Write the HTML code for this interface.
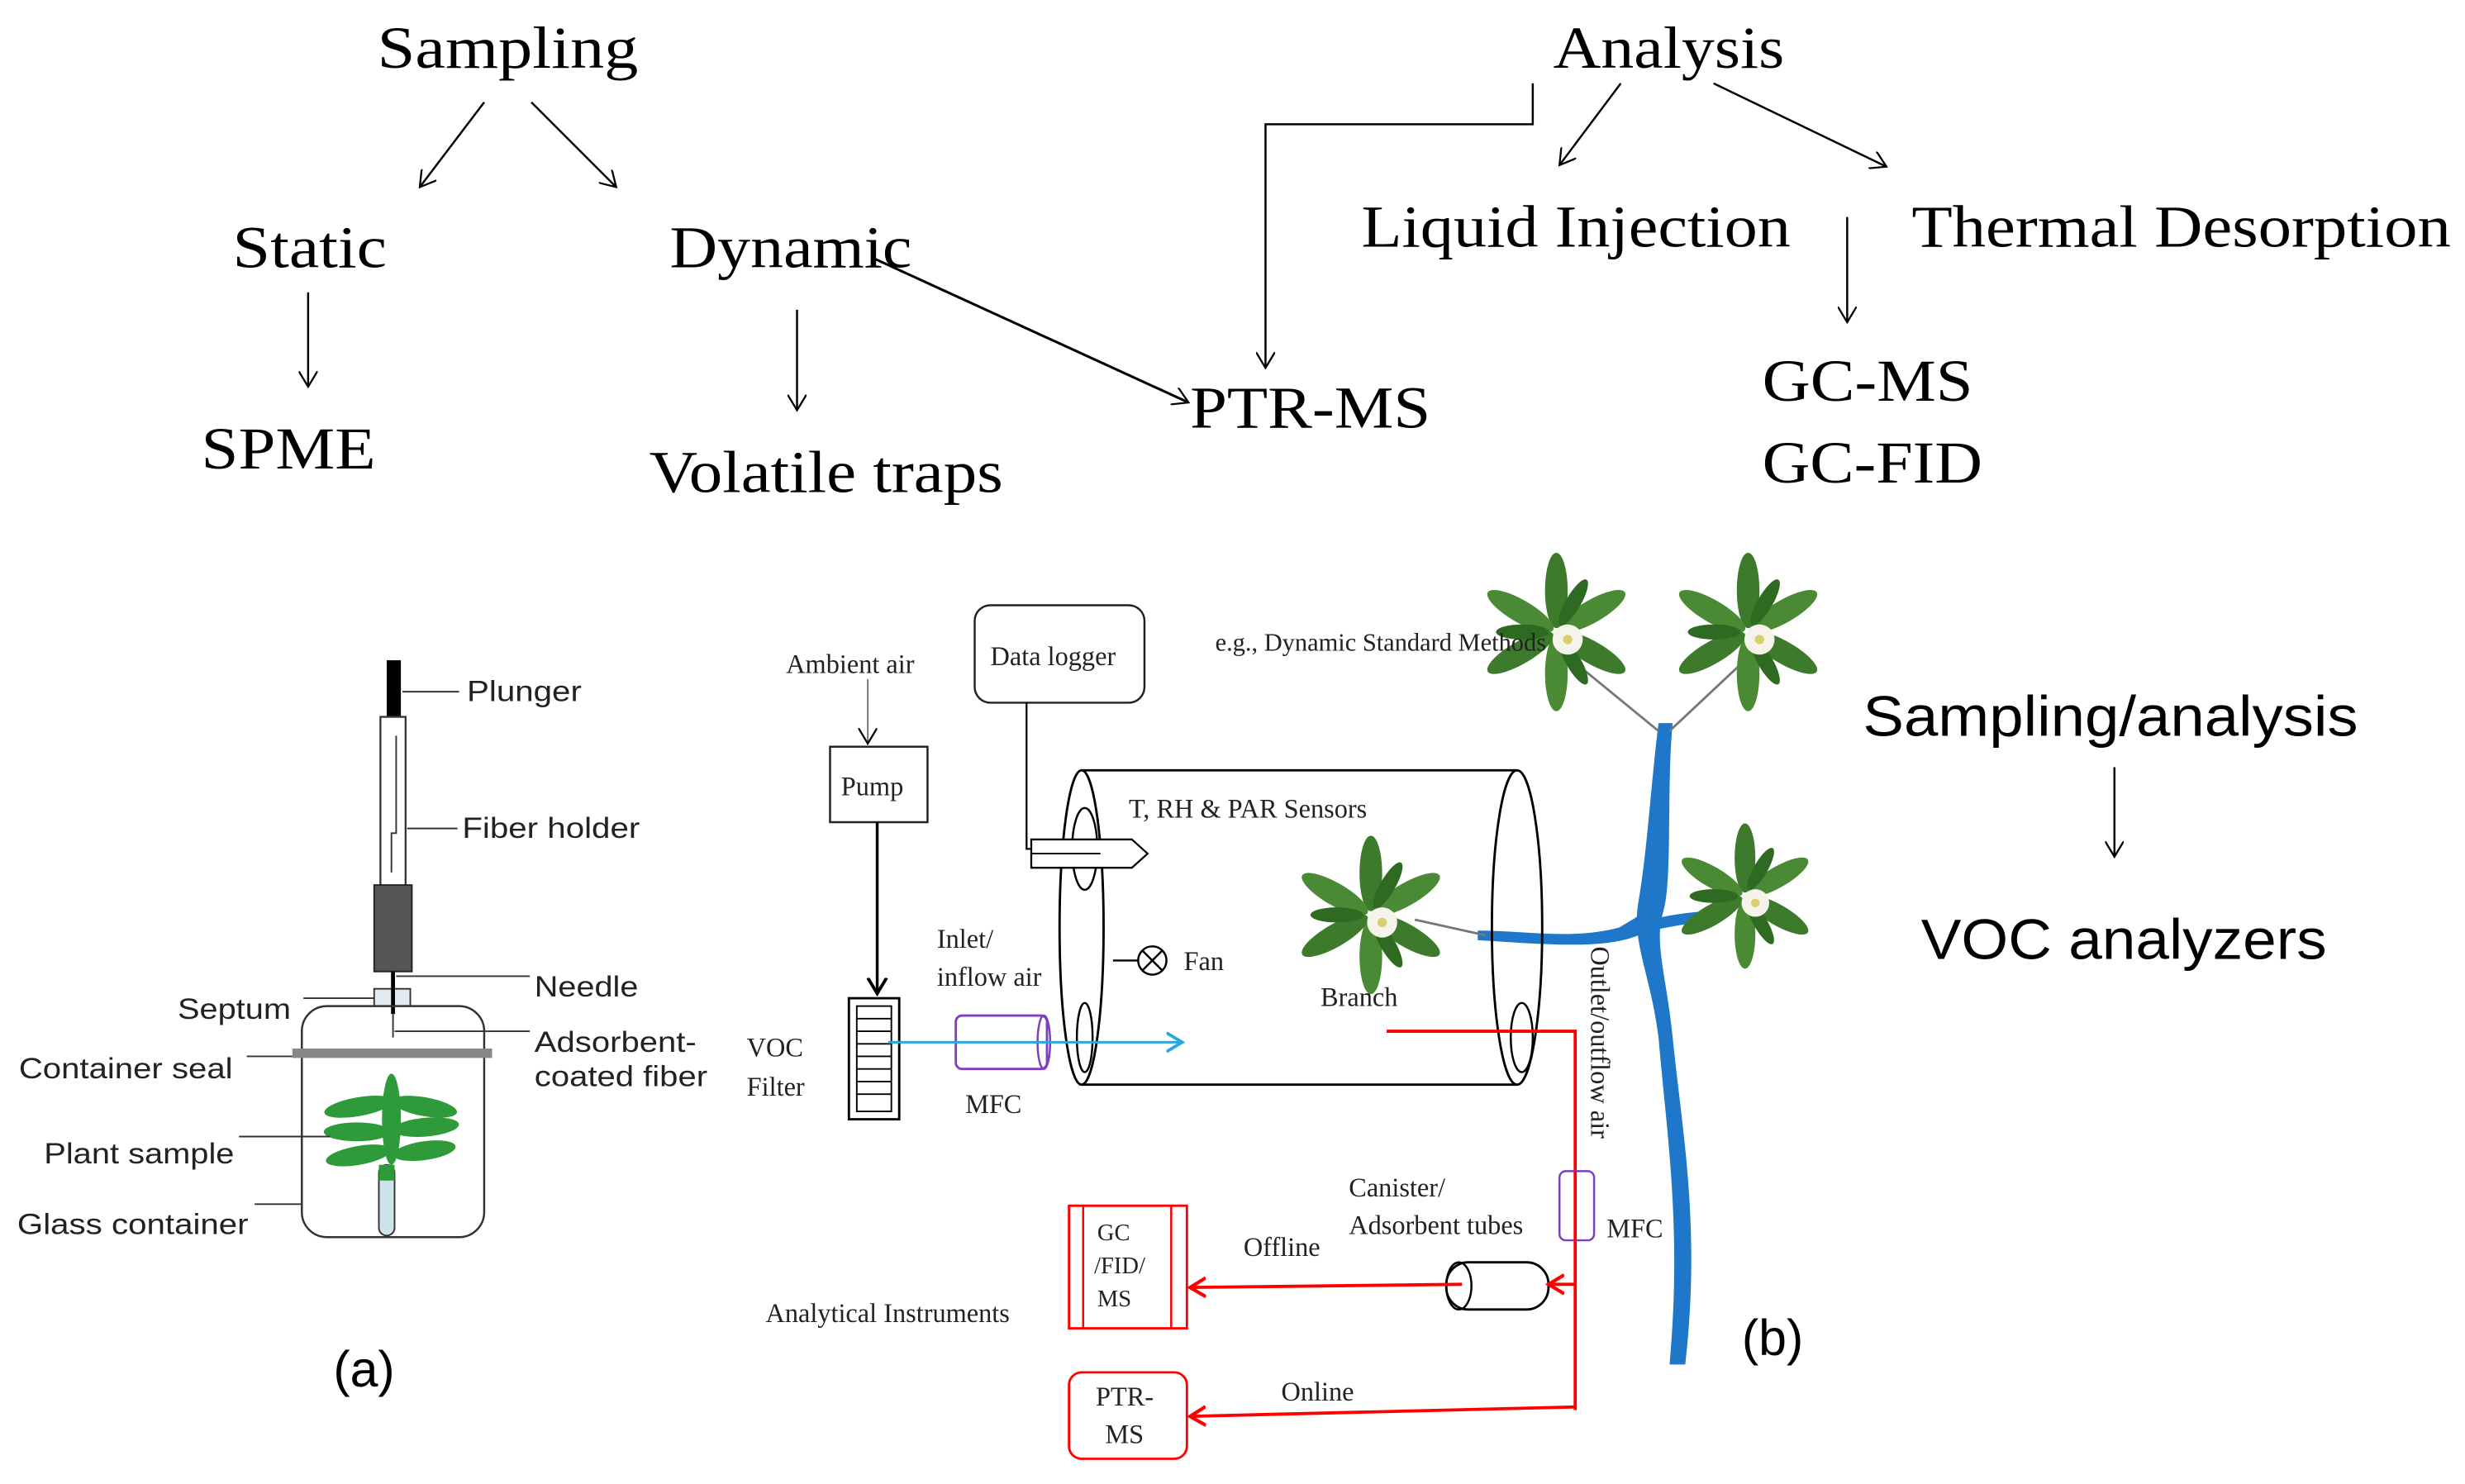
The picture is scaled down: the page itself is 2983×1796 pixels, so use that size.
<!DOCTYPE html>
<html><head><meta charset="utf-8"><style>html,body{margin:0;padding:0;background:#fff}svg{display:block}</style></head>
<body>
<svg width="2983" height="1796" viewBox="0 0 1568 944" xmlns="http://www.w3.org/2000/svg">
<defs>
<marker id="v" markerWidth="12" markerHeight="12" refX="10" refY="6" orient="auto" markerUnits="userSpaceOnUse"><path d="M0,0 L10,6 L0,12" fill="none" stroke="#000" stroke-width="1.2"/></marker>
<marker id="vb" markerWidth="14" markerHeight="14" refX="10" refY="7" orient="auto" markerUnits="userSpaceOnUse"><path d="M0,1 L10,7 L0,13" fill="none" stroke="#000" stroke-width="2"/></marker>
<marker id="vr" markerWidth="14" markerHeight="14" refX="10" refY="7" orient="auto" markerUnits="userSpaceOnUse"><path d="M0,1 L10,7 L0,13" fill="none" stroke="#f00" stroke-width="2.2"/></marker>
<marker id="vc" markerWidth="14" markerHeight="14" refX="10" refY="7" orient="auto" markerUnits="userSpaceOnUse"><path d="M0,1 L10,7 L0,13" fill="none" stroke="#29a8e0" stroke-width="2"/></marker>
<g id="leaf"><ellipse cx="0" cy="-22" rx="6" ry="20" fill="#3d7a2c"/><ellipse cx="0" cy="-22" rx="6" ry="20" fill="#4a8a34" transform="rotate(60)"/><ellipse cx="0" cy="-22" rx="6" ry="20" fill="#3d7a2c" transform="rotate(120)"/><ellipse cx="0" cy="-22" rx="6" ry="20" fill="#4a8a34" transform="rotate(180)"/><ellipse cx="0" cy="-22" rx="6" ry="20" fill="#3d7a2c" transform="rotate(240)"/><ellipse cx="0" cy="-22" rx="6" ry="20" fill="#4a8a34" transform="rotate(300)"/><ellipse cx="0" cy="-18" rx="4" ry="14" fill="#2f6a22" transform="rotate(30)"/><ellipse cx="0" cy="-18" rx="4" ry="14" fill="#2f6a22" transform="rotate(150)"/><ellipse cx="0" cy="-18" rx="4" ry="14" fill="#2f6a22" transform="rotate(270)"/><circle cx="6" cy="4" r="8" fill="#f4f4ea"/><circle cx="6" cy="4" r="2.5" fill="#d8d070"/></g>
</defs>
<g font-family="'Liberation Serif',serif" fill="#000" font-size="38">
<text x="240" y="43" textLength="166" lengthAdjust="spacingAndGlyphs">Sampling</text>
<text x="988" y="43" textLength="147" lengthAdjust="spacingAndGlyphs">Analysis</text>
<text x="148" y="170" textLength="98" lengthAdjust="spacingAndGlyphs">Static</text>
<text x="426" y="170" textLength="154" lengthAdjust="spacingAndGlyphs">Dynamic</text>
<text x="866" y="157" textLength="273" lengthAdjust="spacingAndGlyphs">Liquid Injection</text>
<text x="1216" y="157" textLength="343" lengthAdjust="spacingAndGlyphs">Thermal Desorption</text>
<text x="128" y="298" textLength="111" lengthAdjust="spacingAndGlyphs">SPME</text>
<text x="413" y="313" textLength="225" lengthAdjust="spacingAndGlyphs">Volatile traps</text>
<text x="757" y="272" textLength="153" lengthAdjust="spacingAndGlyphs">PTR-MS</text>
<text x="1121" y="255" textLength="134" lengthAdjust="spacingAndGlyphs">GC-MS</text>
<text x="1121" y="307" textLength="140" lengthAdjust="spacingAndGlyphs">GC-FID</text>
</g>
<g stroke="#000" stroke-width="1.3" fill="none">
<line x1="308" y1="65" x2="267" y2="119" marker-end="url(#v)"/>
<line x1="338" y1="65" x2="392" y2="119" marker-end="url(#v)"/>
<line x1="196" y1="186" x2="196" y2="246" marker-end="url(#v)"/>
<line x1="507" y1="197" x2="507" y2="261" marker-end="url(#v)"/>
<line x1="555" y1="164" x2="756" y2="256" marker-end="url(#v)" stroke-width="1.6"/>
<polyline points="975,53 975,79 805,79 805,234" marker-end="url(#v)"/>
<line x1="1031" y1="53" x2="992" y2="105" marker-end="url(#v)"/>
<line x1="1090" y1="53" x2="1200" y2="106" marker-end="url(#v)"/>
<line x1="1175" y1="138" x2="1175" y2="205" marker-end="url(#v)"/>
<line x1="1345" y1="488" x2="1345" y2="545" marker-end="url(#v)"/>
</g>
<g font-family="'Liberation Sans',sans-serif" font-size="36" fill="#000">
<text x="1185" y="468" textLength="315" lengthAdjust="spacingAndGlyphs">Sampling/analysis</text>
<text x="1222" y="610" textLength="258" lengthAdjust="spacingAndGlyphs">VOC analyzers</text>
<text x="212" y="882" font-size="32">(a)</text>
<text x="1108" y="862" font-size="32">(b)</text>
</g>
<!-- panel a -->
<g>
<rect x="246" y="420" width="9" height="37" fill="#000"/>
<rect x="242" y="456" width="16" height="108" fill="#fff" stroke="#333" stroke-width="1.2"/>
<polyline points="252,468 252,530 249,530 249,555" fill="none" stroke="#333" stroke-width="1"/>
<rect x="238" y="563" width="24" height="55" fill="#555" stroke="#222"/>
<rect x="238" y="629" width="23" height="11" fill="#e0eaf0" stroke="#333"/>
<line x1="250" y1="618" x2="250" y2="645" stroke="#000" stroke-width="2.5"/>
<line x1="250" y1="645" x2="250" y2="660" stroke="#333" stroke-width="1"/>
<rect x="192" y="640" width="116" height="147" rx="16" fill="none" stroke="#333" stroke-width="1.3"/>
<rect x="186" y="667" width="127" height="6" fill="#888"/>
<rect x="241" y="741" width="10" height="45" rx="5" fill="#cde3ea" stroke="#333"/>
<rect x="241" y="741" width="10" height="10" fill="#2e9a3a"/>
<g fill="#2e9a3a"><ellipse cx="249" cy="712" rx="6" ry="29"/>
<ellipse cx="228" cy="704" rx="22" ry="6" transform="rotate(-10 228 704)"/><ellipse cx="270" cy="704" rx="21" ry="6" transform="rotate(10 270 704)"/>
<ellipse cx="227" cy="720" rx="21" ry="6"/><ellipse cx="271" cy="717" rx="21" ry="6" transform="rotate(-5 271 717)"/>
<ellipse cx="228" cy="735" rx="21" ry="6" transform="rotate(-10 228 735)"/><ellipse cx="270" cy="732" rx="20" ry="6" transform="rotate(-8 270 732)"/></g>
<g stroke="#333" stroke-width="1">
<line x1="256" y1="440" x2="292" y2="440"/><line x1="259" y1="527" x2="291" y2="527"/>
<line x1="252" y1="621" x2="337" y2="621"/><line x1="193" y1="635" x2="238" y2="635"/>
<line x1="251" y1="656" x2="337" y2="656"/><line x1="157" y1="672" x2="186" y2="672"/>
<line x1="152" y1="723" x2="210" y2="723"/><line x1="162" y1="766" x2="192" y2="766"/></g>
<g font-family="'Liberation Sans',sans-serif" font-size="18.5" fill="#222">
<text x="297" y="446" textLength="73" lengthAdjust="spacingAndGlyphs">Plunger</text>
<text x="294" y="533" textLength="113" lengthAdjust="spacingAndGlyphs">Fiber holder</text>
<text x="340" y="634" textLength="66" lengthAdjust="spacingAndGlyphs">Needle</text>
<text x="113" y="648" textLength="72" lengthAdjust="spacingAndGlyphs">Septum</text>
<text x="340" y="669" textLength="103" lengthAdjust="spacingAndGlyphs">Adsorbent-</text>
<text x="340" y="691" textLength="110" lengthAdjust="spacingAndGlyphs">coated fiber</text>
<text x="12" y="686" textLength="136" lengthAdjust="spacingAndGlyphs">Container seal</text>
<text x="28" y="740" textLength="121" lengthAdjust="spacingAndGlyphs">Plant sample</text>
<text x="11" y="785" textLength="147" lengthAdjust="spacingAndGlyphs">Glass container</text></g>
</g>
<!-- panel b -->
<g font-family="'Liberation Serif',serif" font-size="17" fill="#222">
<path d="M1055,460 C1050,500 1048,540 1042,575 C1038,600 1050,620 1055,660 C1060,720 1070,780 1062,868 L1072,868 C1082,780 1070,720 1064,660 C1060,620 1052,600 1058,580 C1064,560 1060,500 1064,460 Z" fill="#1e77c8"/>
<path d="M940,592 C970,592 1000,598 1030,590 L1050,578 L1052,590 C1030,604 1000,602 940,598 Z" fill="#1e77c8"/>
<path d="M1050,585 C1070,580 1085,580 1100,578 L1100,582 C1085,586 1070,588 1050,592 Z" fill="#1e77c8"/>
<line x1="1055" y1="465" x2="1000" y2="420" stroke="#777" stroke-width="1.5"/>
<line x1="1062" y1="465" x2="1110" y2="420" stroke="#777" stroke-width="1.5"/>
<line x1="900" y1="585" x2="945" y2="595" stroke="#777" stroke-width="1.5"/>
<use href="#leaf" transform="translate(990,402) scale(1.2)"/>
<use href="#leaf" transform="translate(1112,402) scale(1.2)"/>
<use href="#leaf" transform="translate(872,582) scale(1.2)"/>
<use href="#leaf" transform="translate(1110,570) scale(1.1)"/>
<text x="773" y="414" font-size="16">e.g., Dynamic Standard Methods</text>
<rect x="620" y="385" width="108" height="62" rx="10" fill="none" stroke="#222" stroke-width="1.3"/>
<text x="630" y="423">Data logger</text>
<text x="500" y="428">Ambient air</text>
<line x1="552" y1="432" x2="552" y2="473" stroke="#555" stroke-width="0.8" marker-end="url(#v)"/>
<rect x="528" y="475" width="62" height="48" fill="none" stroke="#222" stroke-width="1.3"/>
<text x="535" y="506">Pump</text>
<line x1="558" y1="523" x2="558" y2="632" stroke="#000" stroke-width="1.8" marker-end="url(#vb)"/>
<rect x="540" y="635" width="32" height="77" fill="none" stroke="#000" stroke-width="1.5"/>
<g stroke="#000" stroke-width="1"><rect x="545" y="640" width="22" height="67" fill="none"/>
<line x1="545" y1="648" x2="567" y2="648"/><line x1="545" y1="656" x2="567" y2="656"/><line x1="545" y1="664" x2="567" y2="664"/><line x1="545" y1="672" x2="567" y2="672"/><line x1="545" y1="680" x2="567" y2="680"/><line x1="545" y1="688" x2="567" y2="688"/><line x1="545" y1="696" x2="567" y2="696"/></g>
<text x="475" y="672">VOC</text><text x="475" y="697">Filter</text>
<line x1="688" y1="490" x2="965" y2="490" stroke="#000" stroke-width="1.5"/>
<line x1="688" y1="690" x2="965" y2="690" stroke="#000" stroke-width="1.5"/>
<ellipse cx="688" cy="590" rx="14" ry="100" fill="#fff" stroke="#000" stroke-width="1.5"/>
<ellipse cx="965" cy="590" rx="16" ry="100" fill="none" stroke="#000" stroke-width="1.5"/>
<ellipse cx="690" cy="540" rx="8" ry="26" fill="none" stroke="#000" stroke-width="1.3"/>
<ellipse cx="690" cy="660" rx="5" ry="22" fill="none" stroke="#000" stroke-width="1.3"/>
<ellipse cx="968" cy="660" rx="7" ry="22" fill="none" stroke="#000" stroke-width="1.3"/>
<polyline points="653,447 653,540 658,540" fill="none" stroke="#000" stroke-width="1.2"/>
<path d="M656,534 L720,534 L730,543 L720,552 L656,552 Z" fill="#fff" stroke="#000" stroke-width="1.2"/>
<line x1="656" y1="543" x2="700" y2="543" stroke="#000"/>
<text x="718" y="520">T, RH &amp; PAR Sensors</text>
<circle cx="733" cy="611" r="9" fill="none" stroke="#000" stroke-width="1.3"/>
<path d="M727,605 L739,617 M739,605 L727,617 M708,611 L724,611" stroke="#000" stroke-width="1.3"/>
<text x="753" y="617">Fan</text>
<text x="596" y="603">Inlet/</text><text x="596" y="627">inflow air</text>
<rect x="608" y="646" width="58" height="34" rx="4" fill="none" stroke="#7b3fbf" stroke-width="1.5"/>
<ellipse cx="664" cy="663" rx="4" ry="17" fill="none" stroke="#7b3fbf" stroke-width="1.3"/>
<line x1="565" y1="663" x2="752" y2="663" stroke="#29a8e0" stroke-width="1.6" marker-end="url(#vc)"/>
<text x="614" y="708">MFC</text>
<text x="840" y="640">Branch</text>
<polyline points="882,656 1002,656 1002,897" fill="none" stroke="#f00" stroke-width="2"/>
<rect x="992" y="745" width="22" height="44" rx="4" fill="#fff" stroke="#7b3fbf" stroke-width="1.3"/>
<line x1="1002" y1="745" x2="1002" y2="789" stroke="#f00" stroke-width="2"/>
<text x="1022" y="787">MFC</text>
<text transform="translate(1012,602) rotate(90)">Outlet/outflow air</text>
<text x="858" y="761">Canister/</text><text x="858" y="785">Adsorbent tubes</text>
<rect x="920" y="803" width="65" height="30" rx="14" fill="#fff" stroke="#000" stroke-width="1.5"/>
<ellipse cx="928" cy="818" rx="8" ry="15" fill="none" stroke="#000" stroke-width="1.3"/>
<line x1="1002" y1="817" x2="985" y2="817" stroke="#f00" stroke-width="2" marker-end="url(#vr)"/>
<line x1="930" y1="817" x2="757" y2="819" stroke="#f00" stroke-width="2" marker-end="url(#vr)"/>
<text x="791" y="799">Offline</text>
<rect x="680" y="767" width="75" height="78" fill="none" stroke="#f00" stroke-width="1.5"/>
<line x1="689" y1="767" x2="689" y2="845" stroke="#f00" stroke-width="1.3"/>
<line x1="745" y1="767" x2="745" y2="845" stroke="#f00" stroke-width="1.3"/>
<text x="698" y="789" font-size="15">GC</text><text x="696" y="810" font-size="15">/FID/</text><text x="698" y="831" font-size="15">MS</text>
<text x="487" y="841">Analytical Instruments</text>
<rect x="680" y="873" width="75" height="55" rx="8" fill="none" stroke="#f00" stroke-width="1.5"/>
<text x="697" y="894">PTR-</text><text x="703" y="918">MS</text>
<line x1="1002" y1="895" x2="757" y2="901" stroke="#f00" stroke-width="2" marker-end="url(#vr)"/>
<text x="815" y="891">Online</text>
</g>
</svg>
</body></html>
